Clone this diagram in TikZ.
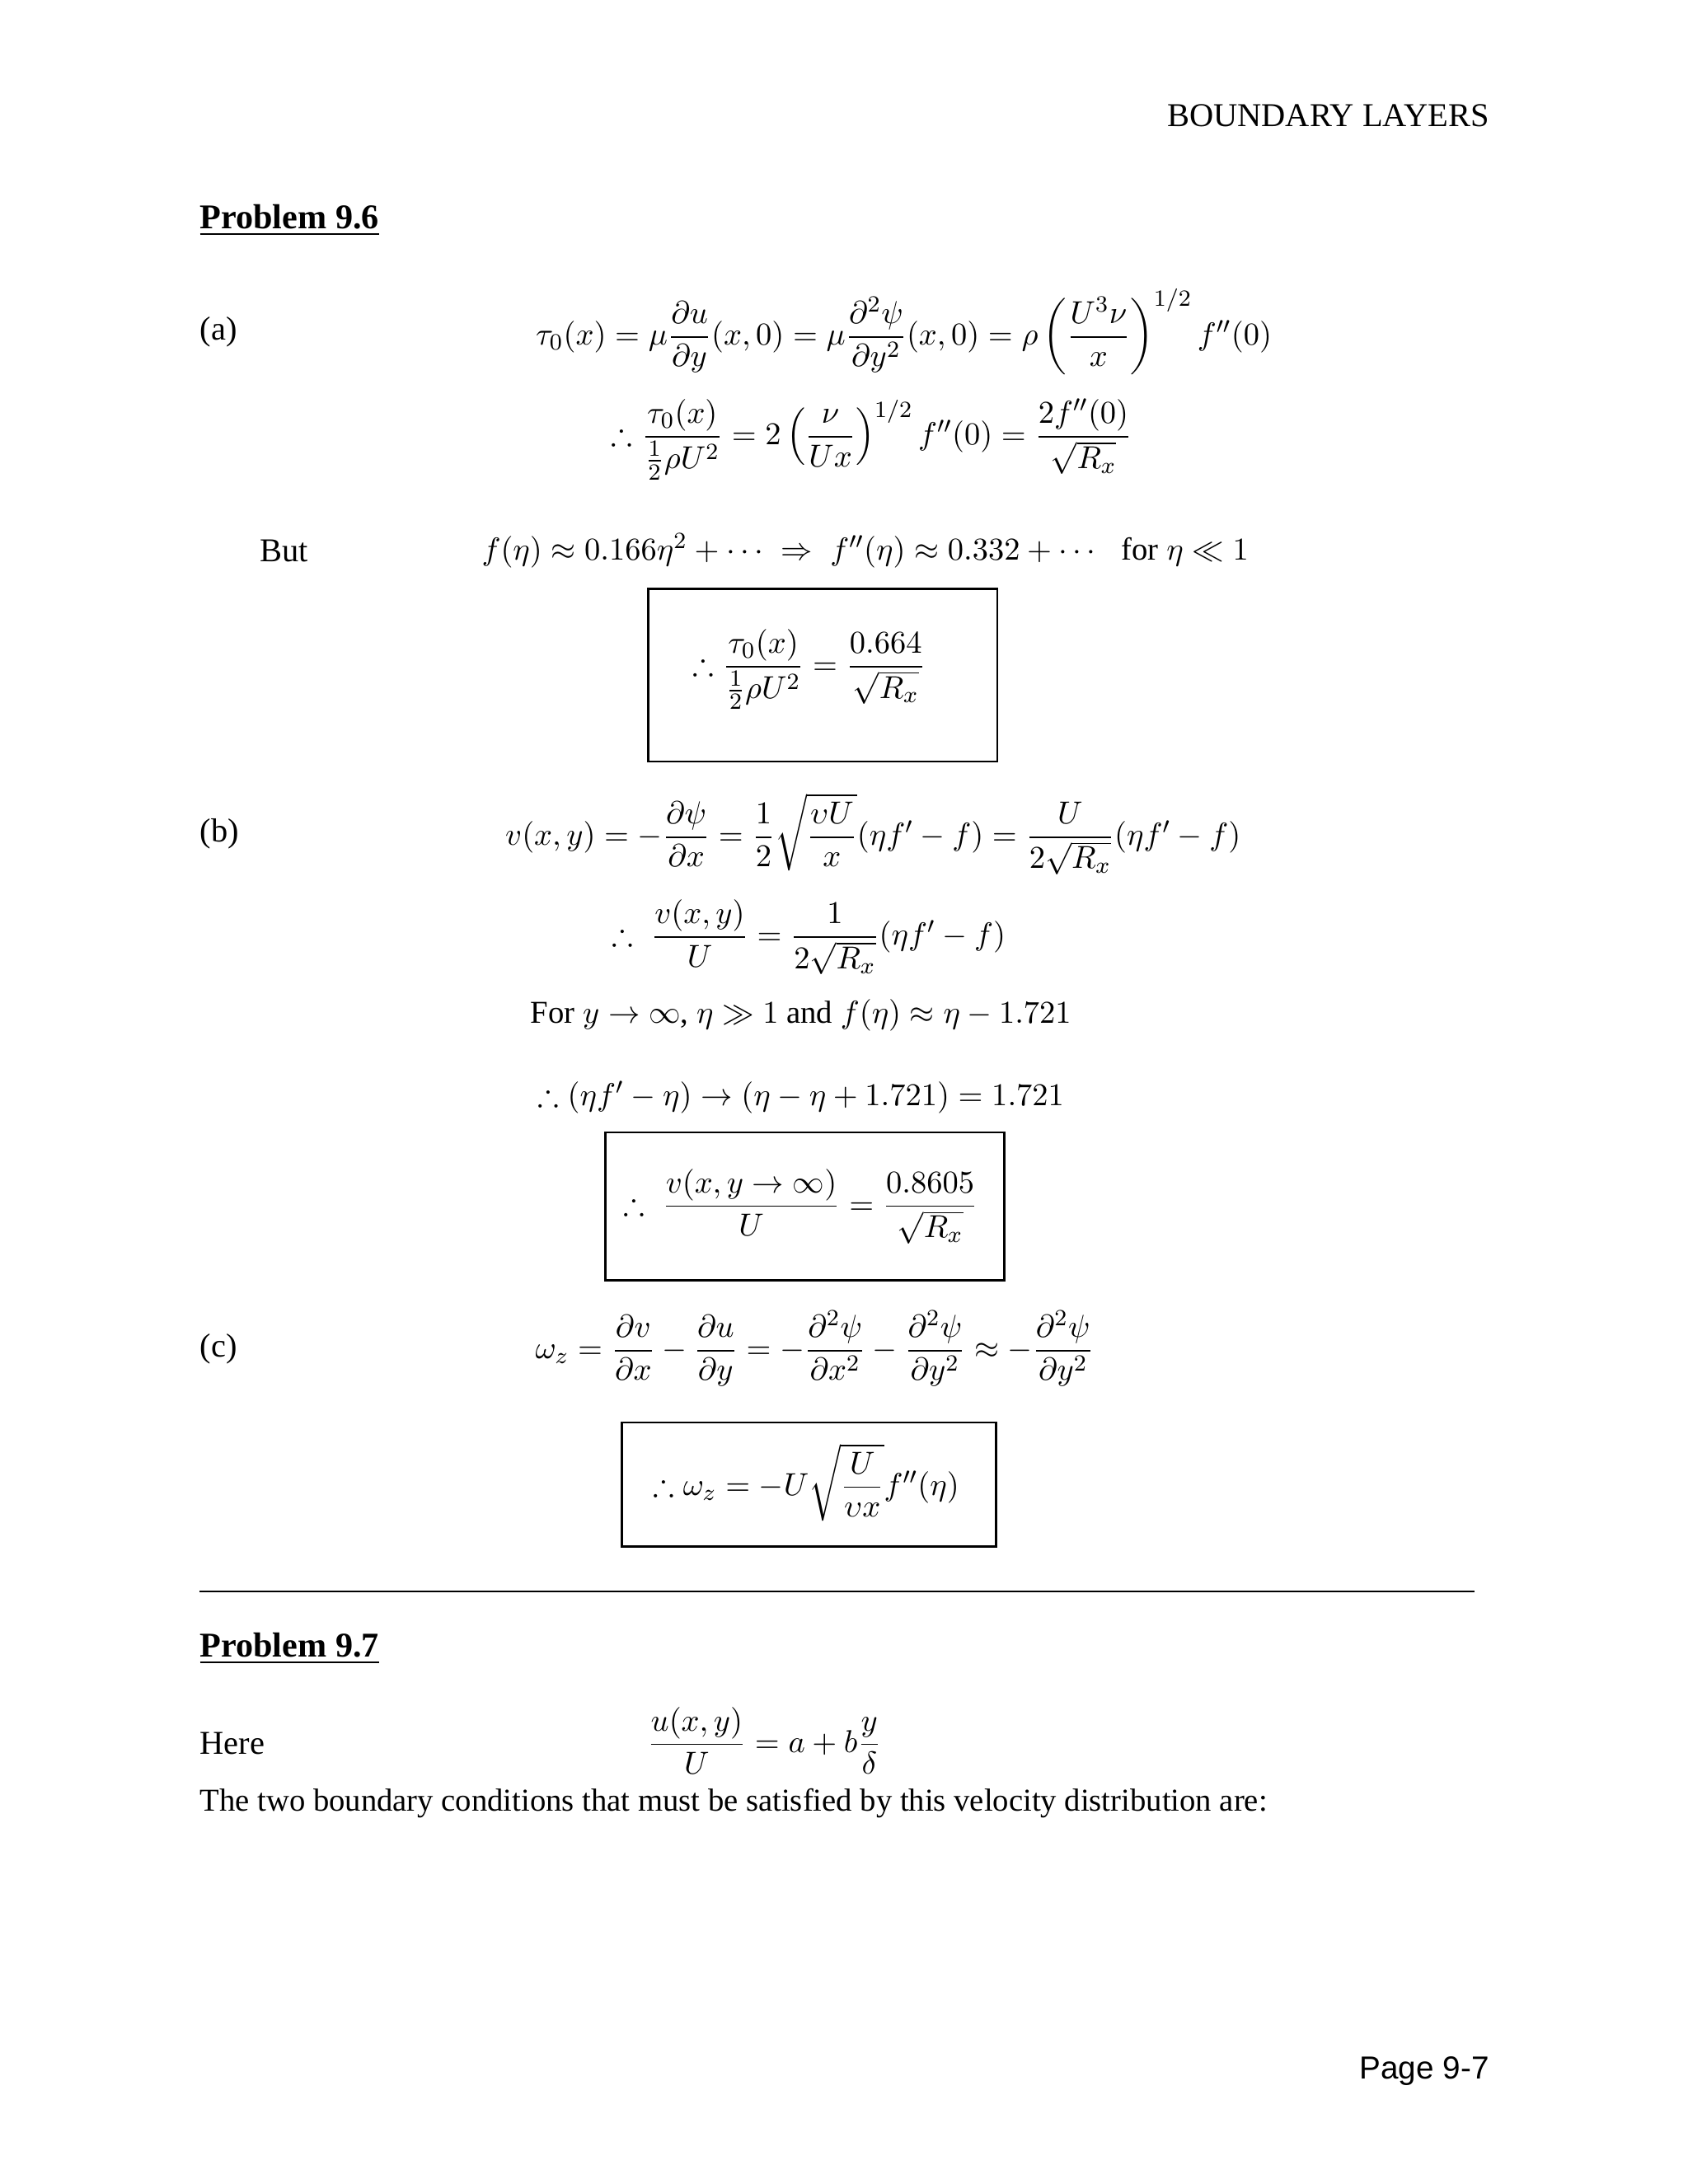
\documentclass[tikz,border=0pt]{standalone}
\usepackage{amsmath,amssymb}
\usepackage{fontspec}
\setmainfont{Liberation Serif}
\newfontfamily\pgsans{Liberation Sans}
\begin{document}
\begin{tikzpicture}[x=0.01692cm,y=-0.01692cm,
  every node/.style={inner sep=0pt,font=\fontsize{11}{13}\selectfont},
  lbl/.style={anchor=west},
  boxed/.style={draw,line width=0.8pt}]
\useasboundingbox (0,0) rectangle (1210,1566);
\node[anchor=east,font=\fontsize{11.5}{14}\selectfont] (hdr) at (1068,83) {BOUNDARY LAYERS};
\node[lbl,font=\fontsize{12}{14}\bfseries] (p96) at (143,158) {\underline{Problem 9.6}};
\node[lbl,font=\fontsize{11.5}{14}\selectfont] (a) at (143,238) {(a)};
\node (ea1) at (648,238) {$\tau_0(x)=\mu\dfrac{\partial u}{\partial y}(x,0)=\mu\dfrac{\partial^2\psi}{\partial y^2}(x,0)=\rho\left(\dfrac{U^3\nu}{x}\right)^{1/2}f''(0)$};
\node (ea2) at (625,315) {$\therefore\dfrac{\tau_0(x)}{\frac12\rho U^2}=2\left(\dfrac{\nu}{Ux}\right)^{1/2}f''(0)=\dfrac{2f''(0)}{\sqrt{R_x}}$};
\node[lbl,font=\fontsize{11.5}{14}\selectfont] (but) at (186,395) {But};
\node[lbl] (ea3) at (345,395) {$f(\eta)\approx0.166\eta^2+\cdots\;\Rightarrow\;f''(\eta)\approx0.332+\cdots\;\;$ for $\eta\ll1$};
\draw[boxed] (465,422) rectangle (715,546);
\node (r1) at (580,480) {$\therefore\dfrac{\tau_0(x)}{\frac12\rho U^2}=\dfrac{0.664}{\sqrt{R_x}}$};
\node[lbl,font=\fontsize{11.5}{14}\selectfont] (b) at (143,598) {(b)};
\node (eb1) at (626,598) {$v(x,y)=-\dfrac{\partial\psi}{\partial x}=\dfrac12\sqrt{\dfrac{\upsilon U}{x}}(\eta f'-f)=\dfrac{U}{2\sqrt{R_x}}(\eta f'-f)$};
\node (eb2) at (580,672) {$\therefore\;\dfrac{v(x,y)}{U}=\dfrac{1}{2\sqrt{R_x}}(\eta f'-f)$};
\node[lbl] (eb3) at (380,728) {For $y\to\infty$, $\eta\gg1$ and $f(\eta)\approx\eta-1.721$};
\node[lbl] (eb4) at (385,787) {$\therefore(\eta f'-\eta)\to(\eta-\eta+1.721)=1.721$};
\draw[boxed] (434,812) rectangle (720,918);
\node (r2) at (574,865) {$\therefore\;\dfrac{v(x,y\to\infty)}{U}=\dfrac{0.8605}{\sqrt{R_x}}$};
\node[lbl,font=\fontsize{11.5}{14}\selectfont] (c) at (143,967) {(c)};
\node (ec1) at (584,967) {$\omega_z=\dfrac{\partial v}{\partial x}-\dfrac{\partial u}{\partial y}=-\dfrac{\partial^2\psi}{\partial x^2}-\dfrac{\partial^2\psi}{\partial y^2}\approx-\dfrac{\partial^2\psi}{\partial y^2}$};
\draw[boxed] (446,1020) rectangle (714,1109);
\node (r3) at (578,1063) {$\therefore\omega_z=-U\sqrt{\dfrac{U}{\upsilon x}}f''(\eta)$};
\draw[line width=0.6pt] (143,1141) -- (1057,1141);
\node[lbl,font=\fontsize{12}{14}\bfseries] (p97) at (143,1182) {\underline{Problem 9.7}};
\node[lbl,font=\fontsize{11.5}{14}\selectfont] (here) at (143,1250) {Here};
\node (e7) at (548,1248) {$\dfrac{u(x,y)}{U}=a+b\dfrac{y}{\delta}$};
\node[lbl] (txt) at (143,1293) {The two boundary conditions that must be satisfied by this velocity distribution are:};
\node[anchor=east,font=\fontsize{11}{13}\pgsans] (pg) at (1068,1485) {Page 9-7};
\end{tikzpicture}
\end{document}
